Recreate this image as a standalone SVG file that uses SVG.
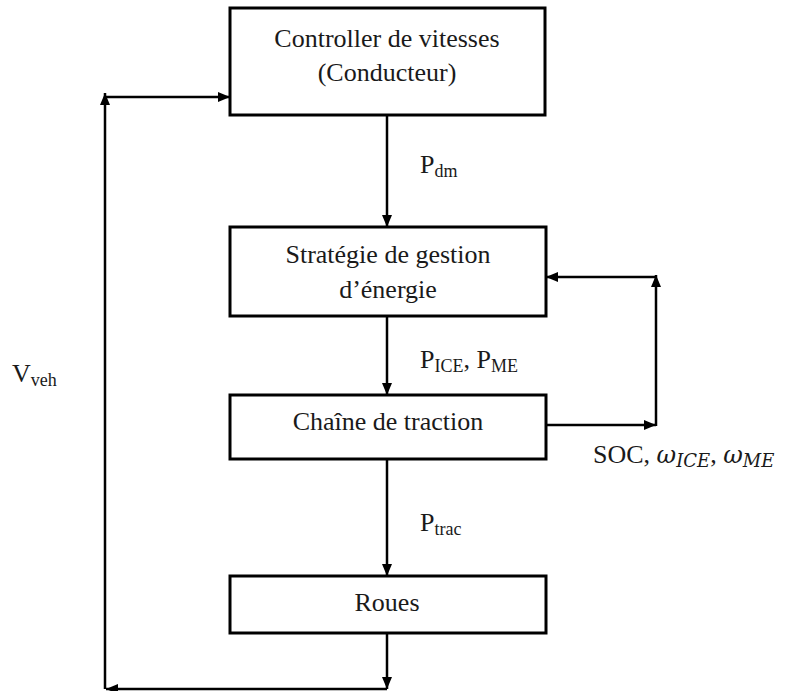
<svg xmlns="http://www.w3.org/2000/svg" width="801" height="691" viewBox="0 0 801 691">
  <style>
    .box { fill: #ffffff; stroke: #000000; stroke-width: 3; }
    .lbl { font-family: 'Liberation Serif', 'Times New Roman', serif; font-size: 26px; fill: #1a1a1a; }
    .sub { font-size: 18px; }
    .mth { font-family: 'DejaVu Serif', 'Liberation Serif', serif; font-style: italic; }
    .wire { fill: none; stroke: #000000; stroke-width: 2.5; }
  </style>
  <defs>
    <marker id="arrow" viewBox="0 0 12 10" refX="12" refY="5" markerWidth="12" markerHeight="10" markerUnits="userSpaceOnUse" orient="auto">
      <path d="M0,0 L12,5 L0,10 z" fill="#000000"/>
    </marker>
  </defs>

  <!-- connectors -->
  <g id="connectors">
    <path class="wire" d="M387,115 V227" marker-end="url(#arrow)"/>
    <path class="wire" d="M387,316 V395" marker-end="url(#arrow)"/>
    <path class="wire" d="M387,459 V576" marker-end="url(#arrow)"/>
    <path class="wire" d="M387,633 V689" marker-end="url(#arrow)"/>
    <path class="wire" d="M387,689 H106" marker-end="url(#arrow)"/>
    <path class="wire" d="M105,689 V93" marker-end="url(#arrow)"/>
    <path class="wire" d="M104,97 H230" marker-end="url(#arrow)"/>
    <path class="wire" d="M546,425 H656" marker-end="url(#arrow)"/>
    <path class="wire" d="M656,426 V275" marker-end="url(#arrow)"/>
    <path class="wire" d="M657,277 H546" marker-end="url(#arrow)"/>
  </g>

  <!-- nodes -->
  <g id="controller">
    <rect class="box" x="230" y="8" width="315" height="107"/>
    <text class="lbl" x="387" y="47" text-anchor="middle">Controller de vitesses</text>
    <text class="lbl" x="387" y="81" text-anchor="middle">(Conducteur)</text>
  </g>
  <g id="strategie">
    <rect class="box" x="230" y="227" width="316" height="89"/>
    <text class="lbl" x="388" y="263" text-anchor="middle">Stratégie de gestion</text>
    <text class="lbl" x="388" y="298" text-anchor="middle">d’énergie</text>
  </g>
  <g id="chaine">
    <rect class="box" x="230" y="395" width="316" height="64"/>
    <text class="lbl" x="388" y="430" text-anchor="middle">Chaîne de traction</text>
  </g>
  <g id="roues">
    <rect class="box" x="230" y="576" width="316" height="57"/>
    <text class="lbl" x="387" y="611" text-anchor="middle">Roues</text>
  </g>

  <!-- signal labels -->
  <g id="labels">
    <text class="lbl" x="420" y="173">P<tspan class="sub" y="177">dm</tspan></text>
    <text class="lbl" x="420" y="368">P<tspan class="sub" y="372">ICE</tspan><tspan y="368">, P</tspan><tspan class="sub" y="372">ME</tspan></text>
    <text class="lbl" x="420" y="531">P<tspan class="sub" y="535">trac</tspan></text>
    <text class="lbl" x="12" y="382">V<tspan class="sub" y="386">veh</tspan></text>
    <text class="lbl" x="593" y="463">SOC, <tspan class="mth" font-size="24">ω</tspan><tspan class="mth" font-size="18" y="467">ICE</tspan><tspan y="463">, </tspan><tspan class="mth" font-size="24">ω</tspan><tspan class="mth" font-size="18" y="467">ME</tspan></text>
  </g>
</svg>
